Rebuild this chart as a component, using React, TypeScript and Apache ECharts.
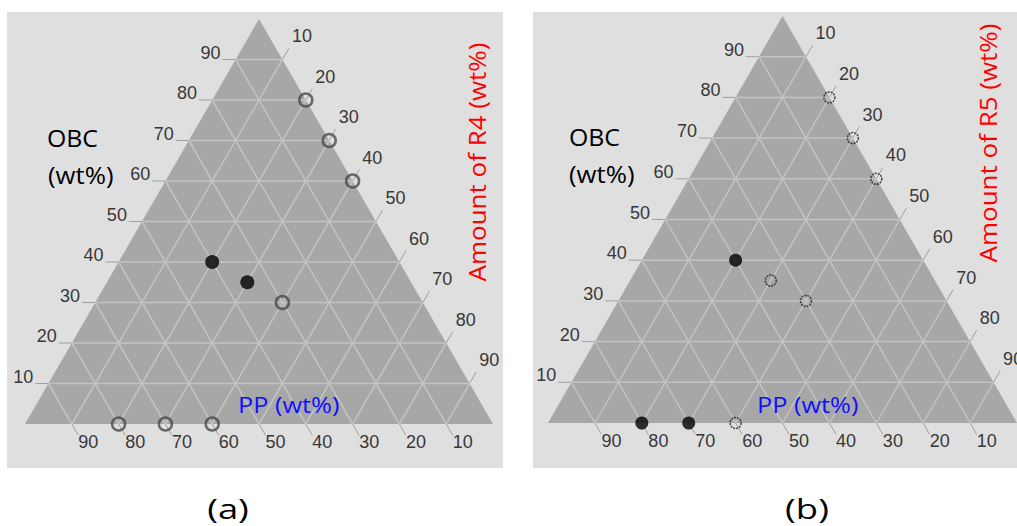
import React, { useEffect, useRef } from 'react';
import * as echarts from 'echarts';

// Grid levels (wt%) and their tick labels, shared by all three sides
const LEVELS = [10, 20, 30, 40, 50, 60, 70, 80, 90];
const LEVEL_LABELS = ['10', '20', '30', '40', '50', '60', '70', '80', '90'];

// Compositions as [OBC, PP, additive] in wt%
const A_FILLED = [[40, 40, 20], [35, 35, 30]];
const A_OPEN = [[80, 0, 20], [70, 0, 30], [60, 0, 40], [30, 30, 40], [0, 80, 20], [0, 70, 30], [0, 60, 40]];
const B_FILLED = [[40, 40, 20], [0, 80, 20], [0, 70, 30]];
const B_OPEN = [[80, 0, 20], [70, 0, 30], [60, 0, 40], [35, 35, 30], [30, 30, 40], [0, 60, 40]];

const SQ = Math.sqrt(3) / 2;
// ternary -> cartesian: apex = OBC, bottom-left = PP, bottom-right = additive
const toXY = (c: number[]) => [c[2] / 100 + c[0] / 200, (c[0] / 100) * SQ];

const TICK_FONT = '18px "Liberation Sans", Arial, sans-serif';
const TICK_COLOR = '#383838';
const EXT = 0.028;

function gridRenderer(params: any, api: any) {
  const k = LEVELS[params.dataIndex];
  const label = LEVEL_LABELS[params.dataIndex];
  const f = k / 100;
  const c = (x: number, y: number) => api.coord([x, y]);
  const seg = (p: number[], q: number[], stroke: string, w: number) => ({
    type: 'line',
    shape: { x1: p[0], y1: p[1], x2: q[0], y2: q[1] },
    style: { stroke, lineWidth: w },
  });
  const txt = (p: number[], dx: number, dy: number, align: string, va: string) => ({
    type: 'text',
    x: p[0] + dx,
    y: p[1] + dy,
    style: { text: label, font: TICK_FONT, fill: TICK_COLOR, align, verticalAlign: va },
  });
  // OBC = f (horizontal)
  const hA = c(f / 2, f * SQ);
  const hB = c(1 - f / 2, f * SQ);
  const hT = c(f / 2 - EXT, f * SQ);
  // additive = f (parallel to left edge)
  const rA = c(f, 0);
  const rB = c(f + (1 - f) / 2, (1 - f) * SQ);
  const rT = c(f + (1 - f + EXT) / 2, (1 - f + EXT) * SQ);
  // PP = f (parallel to right edge)
  const pA = c(1 - f, 0);
  const pB = c((1 - f) / 2, (1 - f) * SQ);
  const pT = c(1 - f + EXT / 2, -EXT * SQ);
  const gridC = '#c3c3c3';
  const tickC = '#a0a0a0';
  return {
    type: 'group',
    children: [
      seg(hA, hB, gridC, 1.5),
      seg(rA, rB, gridC, 1.5),
      seg(pA, pB, gridC, 1.5),
      seg(hA, hT, tickC, 1),
      seg(rB, rT, tickC, 1),
      seg(pA, pT, tickC, 1),
      txt(hT, -2, 2, 'right', 'bottom'),
      txt(rT, 3, -3, 'left', 'bottom'),
      txt(pT, 0, -2, 'left', 'top'),
    ],
  };
}

function triangleRenderer(_p: any, api: any) {
  const pts = [[0, 0], [1, 0], [0.5, SQ]].map((p) => api.coord(p));
  return { type: 'polygon', shape: { points: pts }, style: { fill: '#a7a7a7' } };
}

function panelSeries(idx: number, filled: number[][], open: number[][], openStyle: any, filledSize: number) {
  return [
    {
      type: 'custom', xAxisIndex: idx, yAxisIndex: idx, z: 1, clip: false, silent: true,
      renderItem: triangleRenderer, data: [[0, 0]],
    },
    {
      type: 'custom', xAxisIndex: idx, yAxisIndex: idx, z: 2, clip: false, silent: true,
      renderItem: gridRenderer, data: LEVELS.map((k) => [k / 100, 0]),
    },
    {
      type: 'scatter', xAxisIndex: idx, yAxisIndex: idx, z: 4, symbol: 'circle',
      symbolSize: filledSize, itemStyle: { color: '#000' }, data: filled.map(toXY),
    },
    {
      type: 'scatter', xAxisIndex: idx, yAxisIndex: idx, z: 3, symbol: 'circle',
      ...openStyle, data: open.map(toXY),
    },
  ];
}

const axisX = (gridIndex: number) => ({ type: 'value', gridIndex, min: 0, max: 1, show: false });
const axisY = (gridIndex: number) => ({ type: 'value', gridIndex, min: 0, max: SQ, show: false });

const LABEL_FONT = '"Open Sans", "Noto Sans", sans-serif';

export default function App() {
  const ref = useRef<HTMLDivElement>(null);
  useEffect(() => {
    const chart = echarts.init(ref.current!, null, { renderer: 'svg' });
    const text = (x: number, y: number, t: string, size: number, fill: string, extra: any = {}) => ({
      type: 'text', x, y, z: 10, ...extra,
      style: { text: t, fill, fontFamily: LABEL_FONT, fontSize: size, align: 'left', verticalAlign: 'middle', ...(extra.style || {}) },
    });
    const centered = { style: { align: 'center' } };
    chart.setOption({
      animation: false,
      backgroundColor: '#ffffff',
      grid: [
        { left: 25, top: 19, width: 468, height: 405, containLabel: false },
        { left: 548, top: 16, width: 470, height: 407, containLabel: false },
      ],
      xAxis: [axisX(0), axisX(1)],
      yAxis: [axisY(0), axisY(1)],
      graphic: [
        { type: 'rect', z: -10, shape: { x: 7, y: 12, width: 496, height: 456 }, style: { fill: '#dfdfdf' } },
        { type: 'rect', z: -10, shape: { x: 533, y: 12, width: 490, height: 456 }, style: { fill: '#dfdfdf' } },
        text(47, 138, 'OBC', 23, '#000', { scaleX: 1.08 }),
        text(48, 175, '(wt%)', 23, '#000', { scaleX: 1.12 }),
        text(569, 137, 'OBC', 23, '#000', { scaleX: 1.08 }),
        text(569, 174, '(wt%)', 23, '#000', { scaleX: 1.12 }),
        text(238, 405, 'PP (wt%)', 22, '#1010ff', { scaleX: 1.15 }),
        text(757, 405, 'PP (wt%)', 22, '#1010ff', { scaleX: 1.15 }),
        text(477, 162, 'Amount of R4 (wt%)', 23, '#ff0000', { ...centered, rotation: Math.PI / 2, scaleX: 1.13 }),
        text(988, 143, 'Amount of R5 (wt%)', 23, '#ff0000', { ...centered, rotation: Math.PI / 2, scaleX: 1.13 }),
        text(228, 508, '(a)', 28, '#000', { ...centered, scaleX: 1.3 }),
        text(807, 508, '(b)', 28, '#000', { ...centered, scaleX: 1.3 }),
      ],
      series: [
        ...panelSeries(0, A_FILLED, A_OPEN, {
          symbolSize: 13,
          itemStyle: { color: 'rgba(0,0,0,0)', borderColor: '#4a4a4a', borderWidth: 2.5 },
        }, 14),
        ...panelSeries(1, B_FILLED, B_OPEN, {
          symbolSize: 11,
          itemStyle: { color: 'rgba(0,0,0,0)', borderColor: '#222222', borderWidth: 1.5, borderType: [2, 1] },
        }, 13),
      ],
    });
    return () => chart.dispose();
  }, []);
  return <div ref={ref} style={{ position: 'absolute', left: 0, top: 0, width: 1017, height: 526 }} />;
}
